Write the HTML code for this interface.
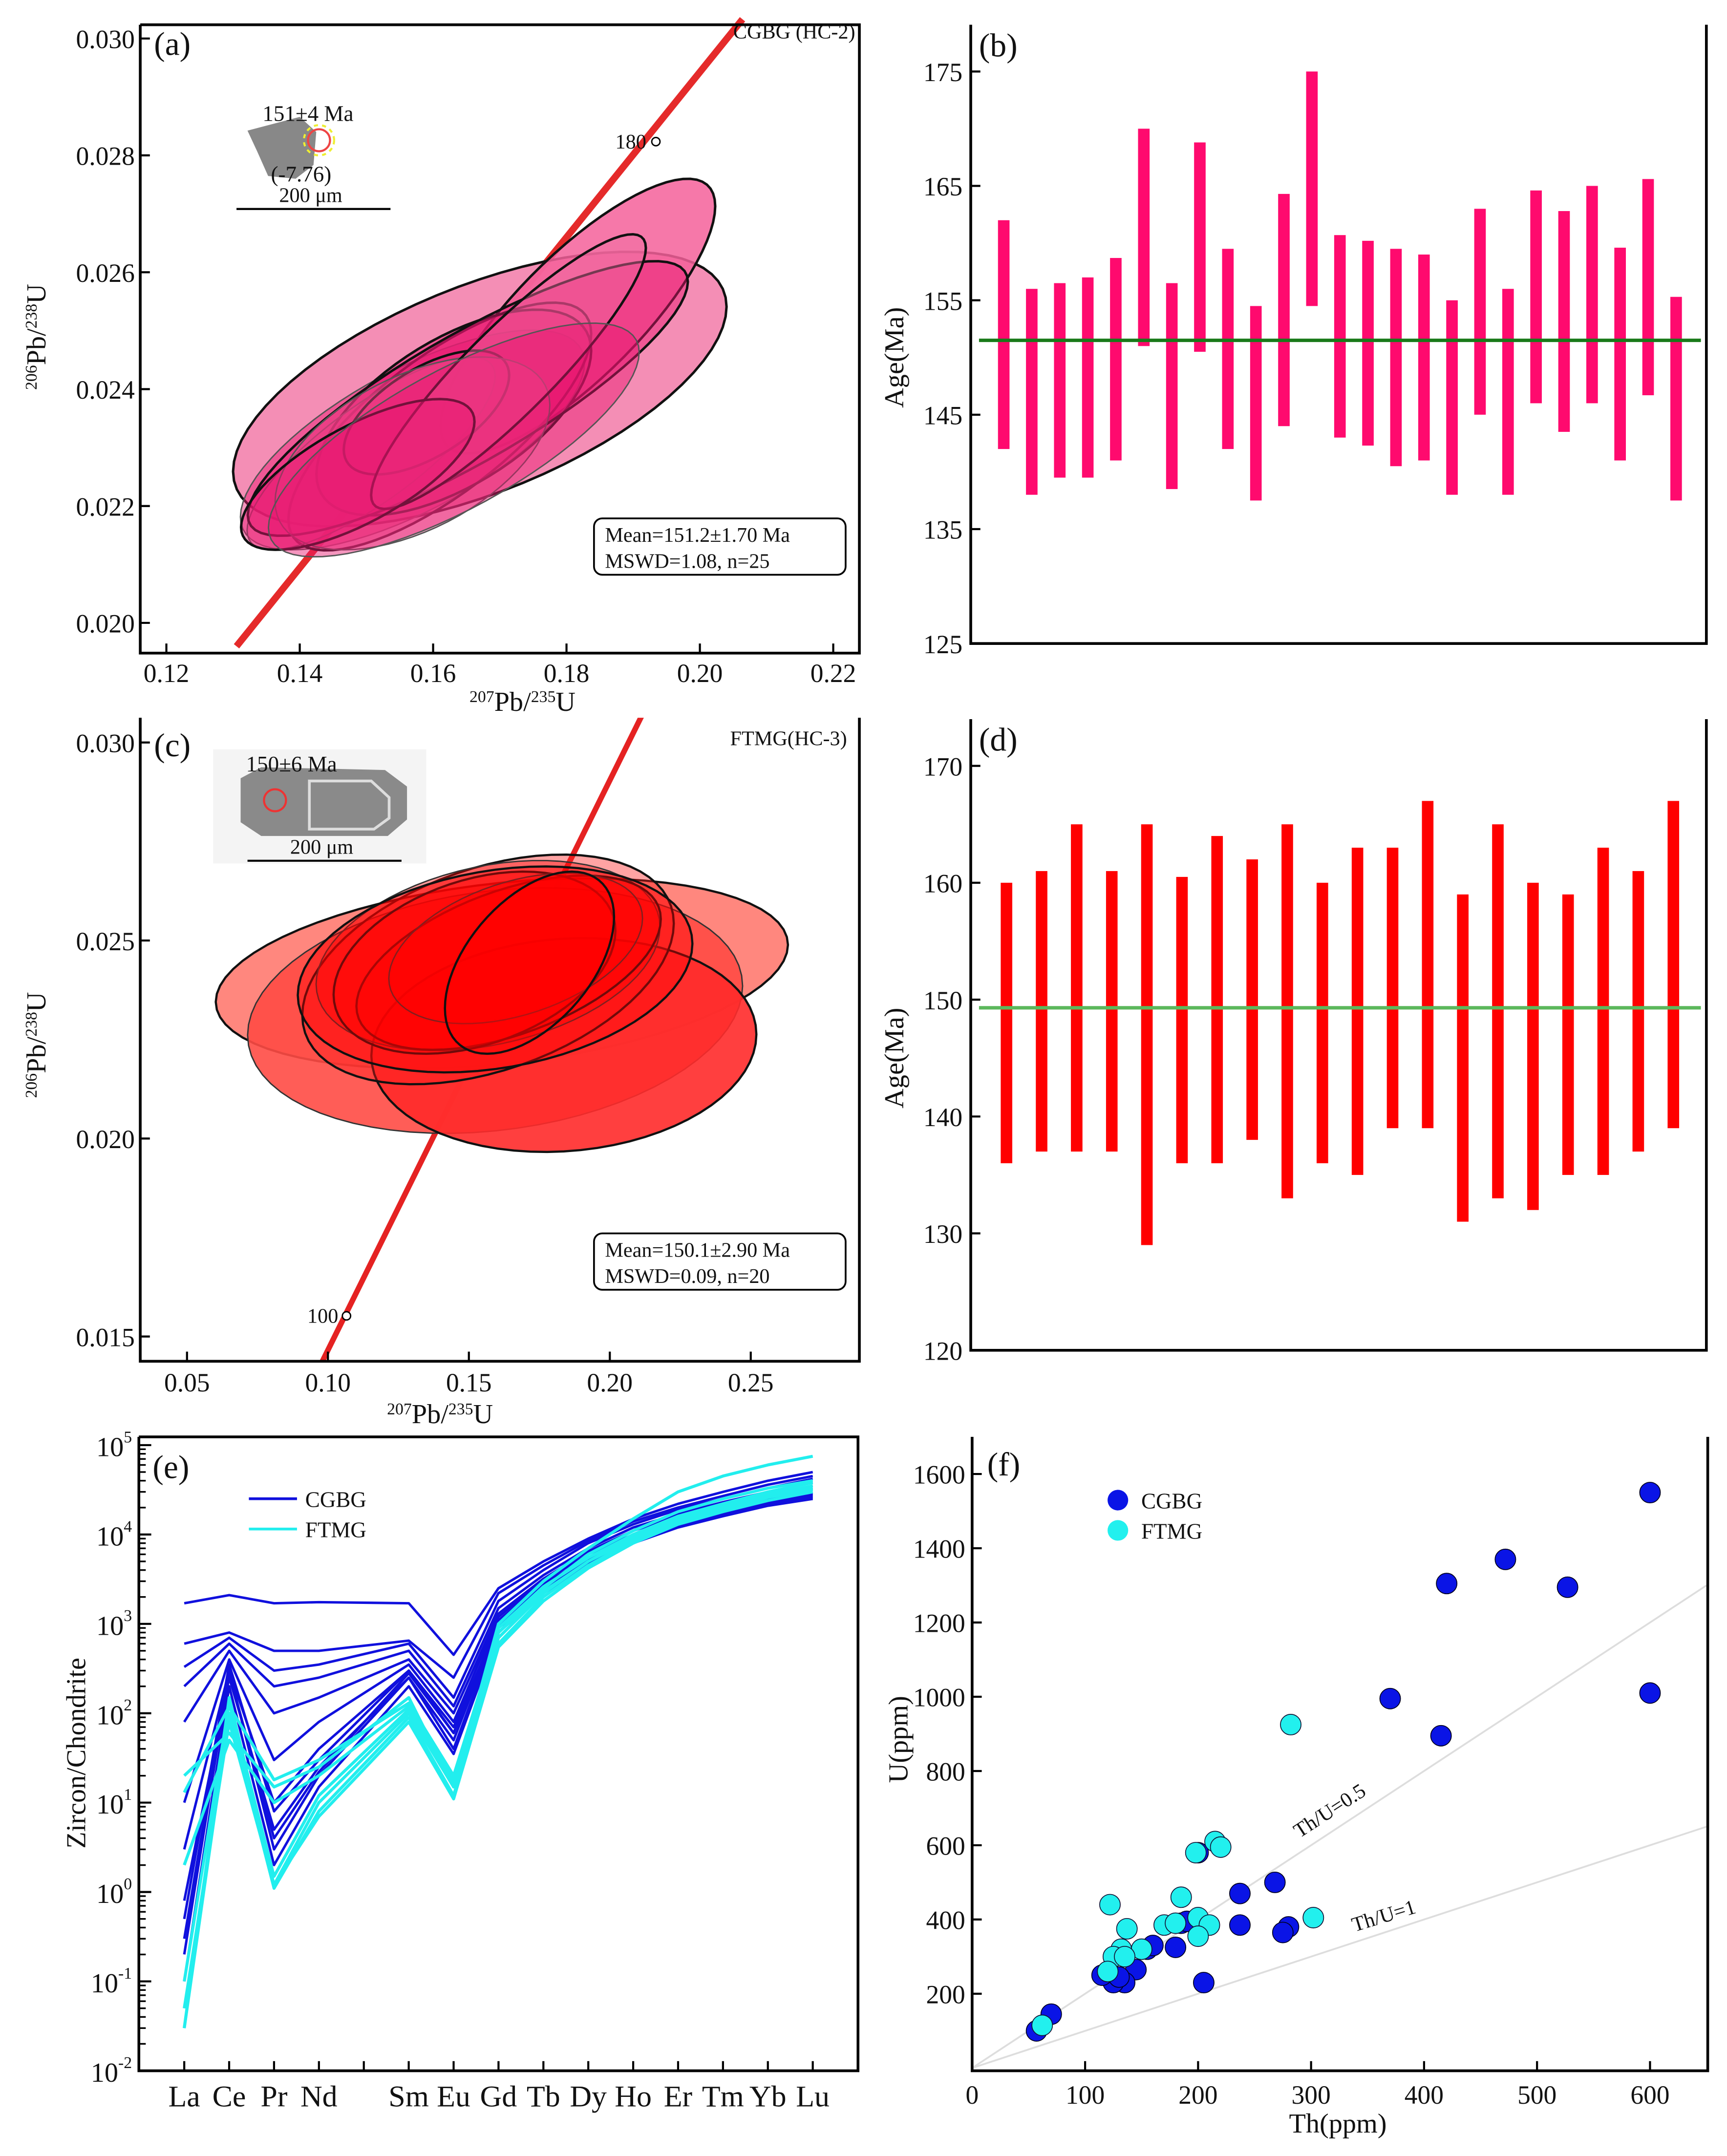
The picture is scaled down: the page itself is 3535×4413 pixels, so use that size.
<!DOCTYPE html>
<html><head><meta charset="utf-8"><style>
html,body{margin:0;padding:0;background:#fff;}
svg{display:block;font-family:"Liberation Serif",serif;}
</style></head><body>
<svg id="fig" xmlns="http://www.w3.org/2000/svg" width="3535" height="4413" viewBox="0 0 1256 1568" preserveAspectRatio="none">
<rect width="1256" height="1568" fill="#fff"/>
</svg>
<script>
// ---------- data ----------
const aCx=[0.167,0.1817,0.1569,0.161,0.1631,0.1507,0.1652,0.159,0.1569,0.1713,0.1487,0.1631];
const aCy=[0.0240,0.02525,0.02313,0.02336,0.0236,0.0229,0.02384,0.0236,0.0229,0.0243,0.02254,0.02313];
const aSx=[0.037,0.0206,0.0258,0.0227,0.0206,0.0186,0.033,0.0124,0.0206,0.0206,0.0175,0.0278];
const aSy=[0.00235,0.00235,0.00188,0.00212,0.00176,0.00165,0.00235,0.00106,0.00165,0.00235,0.00129,0.002];
const aRho=[0.6,0.8,0.7,0.75,0.6,0.8,0.85,0.6,0.5,0.9,0.7,0.75];
const bLow=[142,138,139.5,139.5,141,151,138.5,150.5,142,137.5,144,154.5,143,142.3,140.5,141,138,145,138,146,143.5,146,141,146.7,137.5];
const bHigh=[162,156,156.5,157,158.7,170,156.5,168.8,159.5,154.5,164.3,175,160.7,160.2,159.5,159,155,163,156,164.6,162.8,165,159.6,165.6,155.3];
const bMean=151.5;
const bTicks=[125,135,145,155,165,175];
const cCx=[0.1617,0.1593,0.1837,0.1568,0.1568,0.1641,0.152,0.1666,0.1593,0.1715];
const cCy=[0.02417,0.02323,0.02236,0.02427,0.02462,0.02444,0.02444,0.0248,0.02427,0.02444];
const cSx=[0.1015,0.0878,0.0683,0.0659,0.061,0.054,0.05,0.045,0.07,0.03];
const cSy=[0.0024,0.0031,0.0027,0.0029,0.0024,0.0022,0.0023,0.0019,0.0026,0.0023];
const cRho=[0.3,0.2,0.1,0.4,0.3,0.5,0.35,0.4,0.25,0.5];
const dLow=[136,137,137,137,129,136,136,138,133,136,135,139,139,131,133,132,135,135,137,139];
const dHigh=[160,161,165,161,165,160.5,164,162,165,160,163,163,167,159,165,160,159,163,161,167];
const dMean=149.3;
const dTicks=[120,130,140,150,160,170];
const elems=["La","Ce","Pr","Nd","Pm","Sm","Eu","Gd","Tb","Dy","Ho","Er","Tm","Yb","Lu"];
const reeIdx=[0,1,2,3,5,6,7,8,9,10,11,12,13,14];
const cgbgREE=[
[1700,2100,1700,1750,1700,450,2500,5000,9000,15000,22000,30000,40000,50000],
[600,800,500,500,650,250,2200,4500,8500,14000,20000,27000,36000,45000],
[330,700,300,350,600,150,1800,4000,8000,13000,19000,25000,33000,42000],
[200,600,200,250,500,120,1500,3500,7000,12000,17000,23000,30000,38000],
[80,500,100,150,400,100,1300,3200,6500,11000,16000,21000,28000,35000],
[10,400,30,80,350,80,1200,3000,6000,10000,15000,20000,27000,33000],
[3,300,10,40,300,60,1100,2800,5500,9500,14000,19000,25000,30000],
[0.8,250,5,25,250,50,1000,2500,5000,9000,13000,18000,24000,28000],
[0.3,300,3,20,250,40,900,2300,4800,8500,12500,17000,22000,26000],
[0.1,200,2,15,200,35,800,2200,4500,8000,12000,16000,21000,25000],
[0.5,350,8,30,300,70,1000,2600,5200,9000,13500,18000,24000,29000],
[0.2,280,4,22,280,60,950,2400,5000,8700,13000,17500,23000,27000]];
const ftmgREE=[
[20,60,15,25,150,15,1000,3000,7000,15000,30000,45000,60000,75000],
[13,120,18,30,130,20,800,2500,6000,11000,18000,25000,33000,40000],
[0.03,150,1.2,10,100,15,700,2200,5000,9000,15000,21000,28000,35000],
[0.03,100,1.1,8,90,12,600,2000,4500,8500,14000,19000,26000,32000],
[0.1,130,1.5,12,110,18,800,2300,5000,9500,15000,20000,27000,33000],
[0.05,80,1.2,7,80,11,550,1800,4200,8000,13000,18000,24000,30000],
[2,50,10,20,120,16,900,2600,5500,10000,16000,22000,30000,38000]];
const cgbgTh=[57,70,600,472,420,527,370,415,600,268,237,237,280,275,200,185,180,155,145,135,125,115,130,205,190,160];
const cgbgU=[100,145,1550,1370,1305,1295,995,895,1010,500,470,385,380,365,580,390,325,320,265,230,230,250,245,230,395,330];
const ftmgTh=[62,282,122,198,215,220,185,170,200,210,200,137,150,132,125,120,302,180,135];
const ftmgU=[115,925,440,580,610,595,460,385,405,385,355,375,320,320,300,260,405,390,300];
const fXTicks=[0,100,200,300,400,500,600];
const fYTicks=[200,400,600,800,1000,1200,1400,1600];

// ---------- helpers ----------
const NS='http://www.w3.org/2000/svg';
const svg=document.getElementById('fig');
function mk(tag,attrs,parent){const e=document.createElementNS(NS,tag);for(const k in attrs)e.setAttribute(k,attrs[k]);(parent||svg).appendChild(e);return e;}
function txt(x,y,s,size,anchor,parent){const t=mk('text',{x:x,y:y,'font-size':size,'text-anchor':anchor||'middle',fill:'#111'},parent);t.textContent=s;return t;}
function ellPath(X,Y,cx,cy,sx,sy,r){let d='';for(let i=0;i<=72;i++){const t=i/72*2*Math.PI;const x=cx+sx*Math.cos(t);const y=cy+sy*(r*Math.cos(t)+Math.sqrt(1-r*r)*Math.sin(t));d+=(i?'L':'M')+X(x).toFixed(2)+' '+Y(y).toFixed(2);}return d+'Z';}
function frame(x0,y0,x1,y1,g,top){const p=mk('path',{d:(top?`M${x0} ${y0}H${x1}`:`M${x1} ${y0}`)+`V${y1}H${x0}V${y0}`,fill:'none',stroke:'#000','stroke-width':2},g);}
function supText(x,y,parts,size,rot,g){const t=mk('text',{x:x,y:y,'font-size':size,'text-anchor':'middle',fill:'#111'},g);if(rot)t.setAttribute('transform',`rotate(-90 ${x} ${y})`);parts.forEach(p=>{const s=mk('tspan',{},t);if(p[1]){s.setAttribute('font-size',size*0.6);s.setAttribute('baseline-shift','super');}s.textContent=p[0];});return t;}

// ---------- (a) ----------
{const g=mk('g',{});
const X=v=>121+(v-0.12)*4850, Y=v=>28+(0.030-v)*42500;
const cl=mk('clipPath',{id:'ca'},g);mk('rect',{x:102,y:0,width:523,height:475},cl);
const pg=mk('g',{'clip-path':'url(#ca)'},g);
const cc=mk('line',{x1:172,y1:470,x2:540,y2:14,stroke:'#e52a2a','stroke-width':5},pg);
const fills=['#f27aa8','#f5609a','#e8156f','#ef3d86','#e8156f','#f04d8f','#e8156f','#ea2a7b','#ee4a8a','#f06ba0','#e8156f','#e8156f'];
for(let i=0;i<aCx.length;i++){const e=mk('path',{d:ellPath(X,Y,aCx[i],aCy[i],aSx[i],aSy[i],aRho[i]),fill:fills[i],'fill-opacity':i<2?0.85:0.45,stroke:i%3==2?'#555':'#111','stroke-width':i%3==2?1:1.8},pg);}
const pt=mk('circle',{cx:477,cy:103,r:3,fill:'#fff',stroke:'#000','stroke-width':1},g);
txt(470,108,'180',15,'end',g);
frame(102,18,625,475,g,true);
[0.12,0.14,0.16,0.18,0.20,0.22].forEach(v=>{mk('line',{x1:X(v),y1:475,x2:X(v),y2:468,stroke:'#000','stroke-width':1.5},g);txt(X(v),496,v.toFixed(2),19,'middle',g);});
[0.020,0.022,0.024,0.026,0.028,0.030].forEach(v=>{mk('line',{x1:102,y1:Y(v),x2:109,y2:Y(v),stroke:'#000','stroke-width':1.5},g);txt(98,Y(v)+7,v.toFixed(3),19,'end',g);});
txt(112,40,'(a)',24,'start',g);txt(622,28,'CGBG (HC-2)',15,'end',g);
supText(380,517,[['207',1],['Pb/',0],['235',1],['U',0]],20,false,g);
supText(33,245,[['206',1],['Pb/',0],['238',1],['U',0]],20,true,g);
const bx=mk('rect',{x:432,y:377,width:183,height:41,rx:6,fill:'#fff',stroke:'#000','stroke-width':1.3},g);
txt(440,394,'Mean=151.2±1.70 Ma',15,'start',g);txt(440,413,'MSWD=1.08, n=25',15,'start',g);
const ins=mk('g',{},g);
mk('polygon',{points:'180,95 218,85 230,96 228,120 215,130 195,128 187,110',fill:'#888'},ins);
mk('circle',{cx:232,cy:102,r:8,fill:'none',stroke:'#e44','stroke-width':1.5},ins);
mk('circle',{cx:232,cy:102,r:11,fill:'none',stroke:'#ee3','stroke-width':1.5,'stroke-dasharray':'3 3'},ins);
txt(224,88,'151±4 Ma',16,'middle',ins);txt(219,132,'(-7.76)',16,'middle',ins);txt(226,147,'200 μm',15,'middle',ins);
mk('line',{x1:172,y1:152,x2:284,y2:152,stroke:'#000','stroke-width':1.5},ins);}

// ---------- (b) & (d) bar charts ----------
function ageChart(low,high,mean,ticks,yTop,yBot,vBot,vTop,color,green,label,gname,xs,xe){
const g=mk('g',{});
const Y=v=>yBot-(v-vBot)/(vTop-vBot)*(yBot-yTop);const n=low.length;const X=i=>xs+(xe-xs)*i/(n-1);
for(let i=0;i<n;i++){const r=mk('rect',{x:X(i)-4.2,y:Y(high[i]),width:8.4,height:Y(low[i])-Y(high[i]),fill:color},g);}
const m=mk('line',{x1:712,y1:Y(mean),x2:1237,y2:Y(mean),stroke:green,'stroke-width':2.5},g);
const p=mk('path',{d:`M706 ${yTop-34}V${yBot}H1241V${yTop-34}`,fill:'none',stroke:'#000','stroke-width':2},g);
ticks.forEach(v=>{mk('line',{x1:706,y1:Y(v),x2:713,y2:Y(v),stroke:'#000','stroke-width':1.5},g);txt(700,Y(v)+7,String(v),19,'end',g);});
txt(712,yTop-16+5,label,24,'start',g);
const t=txt(657,(yTop+yBot)/2,'Age(Ma)',20,'middle',g);t.setAttribute('transform',`rotate(-90 657 ${(yTop+yBot)/2})`);}
ageChart(bLow,bHigh,bMean,bTicks,52,468,125,175,'#ff0a6e','#1a7a1a','(b)','panel-b-ages',730,1219);
ageChart(dLow,dHigh,dMean,dTicks,557,982,120,170,'#ff0000','#5cb85c','(d)','panel-d-ages',732,1217);

// ---------- (c) ----------
{const g=mk('g',{});
const X=v=>136+(v-0.05)*2050, Y=v=>540+(0.030-v)*28800;
const cl=mk('clipPath',{id:'cc'},g);mk('rect',{x:102,y:522,width:523,height:468},cl);
const pg=mk('g',{'clip-path':'url(#cc)'},g);
const cc=mk('line',{x1:232,y1:995,x2:467,y2:520,stroke:'#e52222','stroke-width':4},pg);
const fills=['#ff7a70','#ff4b45','#ff2a2a','#ff1a1a','#ff0000','#ff0000','#ff0000','#ff0000','#ff0000','#ff0000'];
for(let i=0;i<cCx.length;i++){const e=mk('path',{d:ellPath(X,Y,cCx[i],cCy[i],cSx[i],cSy[i],cRho[i]),fill:fills[i],'fill-opacity':i<3?0.9:0.4,stroke:i%3==1?'#333':'#111','stroke-width':i%3==1?1:1.6},pg);}
const pt=mk('circle',{cx:252,cy:957,r:3,fill:'#fff',stroke:'#000','stroke-width':1},g);
txt(246,962,'100',15,'end',g);
frame(102,522,625,990,g,false);
[0.05,0.10,0.15,0.20,0.25].forEach(v=>{mk('line',{x1:X(v),y1:990,x2:X(v),y2:983,stroke:'#000','stroke-width':1.5},g);txt(X(v),1012,v.toFixed(2),19,'middle',g);});
[0.015,0.020,0.025,0.030].forEach(v=>{mk('line',{x1:102,y1:Y(v),x2:109,y2:Y(v),stroke:'#000','stroke-width':1.5},g);txt(98,Y(v)+7,v.toFixed(3),19,'end',g);});
txt(112,550,'(c)',24,'start',g);txt(616,542,'FTMG(HC-3)',15,'end',g);
supText(320,1035,[['207',1],['Pb/',0],['235',1],['U',0]],20,false,g);
supText(33,760,[['206',1],['Pb/',0],['238',1],['U',0]],20,true,g);
const bx=mk('rect',{x:432,y:897,width:183,height:41,rx:6,fill:'#fff',stroke:'#000','stroke-width':1.3},g);
txt(440,914,'Mean=150.1±2.90 Ma',15,'start',g);txt(440,933,'MSWD=0.09, n=20',15,'start',g);
const ins=mk('g',{},g);
mk('rect',{x:155,y:545,width:155,height:83,fill:'#f4f4f4'},ins);
mk('polygon',{points:'175,566 190,558 280,560 296,572 296,596 282,608 190,608 175,598',fill:'#8a8a8a'},ins);
mk('polygon',{points:'225,568 270,568 283,580 283,595 272,603 225,603',fill:'none',stroke:'#ddd','stroke-width':2},ins);
mk('circle',{cx:200,cy:582,r:8,fill:'none',stroke:'#e33','stroke-width':1.5},ins);
txt(212,561,'150±6 Ma',16,'middle',ins);txt(234,621,'200 μm',15,'middle',ins);
mk('line',{x1:180,y1:626,x2:292,y2:626,stroke:'#000','stroke-width':1.5},ins);}

// ---------- (e) ----------
{const g=mk('g',{});
const X=i=>134+i*32.65, Y=v=>1506-(Math.log10(v)+2)*65;
function draw(rows,color,w,name){rows.forEach(r=>{let d='';r.forEach((v,j)=>{d+=(j?'L':'M')+X(reeIdx[j]).toFixed(1)+' '+Y(v).toFixed(1);});const p=mk('path',{d:d,fill:'none',stroke:color,'stroke-width':w,'stroke-linejoin':'round'},g);});}
draw(cgbgREE,'#1010dd',1.8,'cgbg-ree-line');draw(ftmgREE,'#22eeee',2.2,'ftmg-ree-line');
frame(101,1045,624,1506,g,true);
elems.forEach((e,i)=>{mk('line',{x1:X(i),y1:1506,x2:X(i),y2:1499,stroke:'#000','stroke-width':1.5},g);if(e!=='Pm'){txt(X(i),1532,e,22,'middle',g);}});
for(let p=-2;p<=5;p++){mk('line',{x1:101,y1:Y(Math.pow(10,p)),x2:110,y2:Y(Math.pow(10,p)),stroke:'#000','stroke-width':1.5},g);
 if(p<5)for(let m=2;m<10;m++){const yy=Y(m*Math.pow(10,p));mk('line',{x1:101,y1:yy,x2:106,y2:yy,stroke:'#000','stroke-width':1.2},g);}
 const t=mk('text',{x:96,y:Y(Math.pow(10,p))+8,'font-size':20,'text-anchor':'end',fill:'#111'},g);const a=mk('tspan',{},t);a.textContent='10';const b=mk('tspan',{'font-size':12,dy:-10},t);b.textContent=String(p);}
txt(111,1075,'(e)',24,'start',g);
const t=txt(62,1275,'Zircon/Chondrite',20,'middle',g);t.setAttribute('transform','rotate(-90 62 1275)');
const l1=mk('line',{x1:181,y1:1090,x2:216,y2:1090,stroke:'#1010dd','stroke-width':2},g);
const l2=mk('line',{x1:181,y1:1112,x2:216,y2:1112,stroke:'#22eeee','stroke-width':2},g);
txt(222,1096,'CGBG',16,'start',g);txt(222,1118,'FTMG',16,'start',g);}

// ---------- (f) ----------
{const g=mk('g',{});
const X=v=>707+v*0.8217, Y=v=>1504-v*0.27;
const r1=mk('line',{x1:X(0),y1:Y(0),x2:X(650),y2:Y(1300),stroke:'#ddd','stroke-width':1.3},g);
const r2=mk('line',{x1:X(0),y1:Y(0),x2:X(650),y2:Y(650),stroke:'#ddd','stroke-width':1.3},g);
let t=txt(945,1337,'Th/U=0.5',15,'start',g);t.setAttribute('transform','rotate(-33 945 1337)');
t=txt(985,1405,'Th/U=1',15,'start',g);t.setAttribute('transform','rotate(-17 985 1405)');
for(let i=0;i<cgbgTh.length;i++){const c=mk('circle',{cx:X(cgbgTh[i]),cy:Y(cgbgU[i]),r:7.5,fill:'#0a14e6',stroke:'#000018','stroke-width':0.6},g);}
for(let i=0;i<ftmgTh.length;i++){const c=mk('circle',{cx:X(ftmgTh[i]),cy:Y(ftmgU[i]),r:7.5,fill:'#22f0ee',stroke:'#113','stroke-width':0.6},g);}
frame(707,1045,1242,1506,g,false);
fXTicks.forEach(v=>{mk('line',{x1:X(v),y1:1506,x2:X(v),y2:1499,stroke:'#000','stroke-width':1.5},g);txt(X(v),1530,String(v),19,'middle',g);});
fYTicks.forEach(v=>{mk('line',{x1:707,y1:Y(v),x2:714,y2:Y(v),stroke:'#000','stroke-width':1.5},g);txt(702,Y(v)+7,String(v),19,'end',g);});
txt(718,1073,'(f)',24,'start',g);
txt(973,1551,'Th(ppm)',20,'middle',g);
t=txt(660,1265,'U(ppm)',20,'middle',g);t.setAttribute('transform','rotate(-90 660 1265)');
const a=mk('circle',{cx:813,cy:1091,r:7.5,fill:'#0a14e6'},g);
const b=mk('circle',{cx:813,cy:1113,r:7.5,fill:'#22f0ee'},g);
txt(830,1097,'CGBG',16,'start',g);txt(830,1119,'FTMG',16,'start',g);}
</script>
</body></html>
